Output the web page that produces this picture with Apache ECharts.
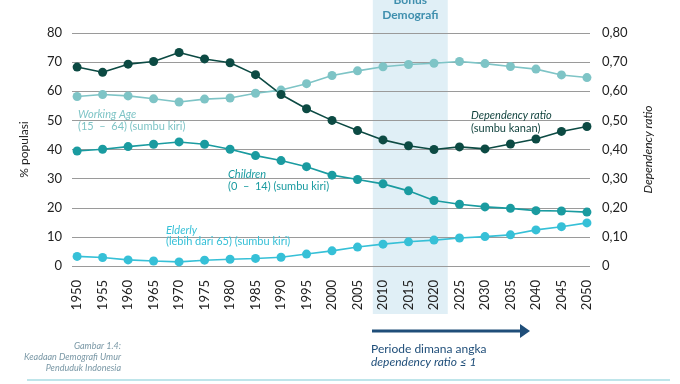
<!DOCTYPE html>
<html><head><meta charset="utf-8">
<script src="https://cdn.jsdelivr.net/npm/echarts@6/dist/echarts.min.js"></script>
<style>html,body{margin:0;padding:0;background:#fff}#c{width:680px;height:384px}</style>
</head><body><div id="c"></div>
<script>
const years = [1950,1955,1960,1965,1970,1975,1980,1985,1990,1995,2000,2005,2010,2015,2020,2025,2030,2035,2040,2045,2050];
const workingAge = [58.2,58.9,58.4,57.4,56.3,57.3,57.7,59.3,60.4,62.6,65.4,67.0,68.4,69.2,69.6,70.2,69.5,68.5,67.6,65.6,64.7];
const children = [39.5,40.1,41.0,41.8,42.6,41.8,40.1,37.9,36.2,34.1,31.2,29.7,28.2,25.8,22.5,21.2,20.3,19.8,19.0,18.9,18.5];
const elderly = [3.3,2.9,2.1,1.7,1.4,2.0,2.3,2.6,3.0,4.1,5.2,6.5,7.5,8.3,8.9,9.6,10.1,10.7,12.4,13.5,14.8];
const dependencyRatio = [0.683,0.665,0.693,0.702,0.733,0.711,0.698,0.657,0.589,0.540,0.500,0.465,0.433,0.413,0.400,0.409,0.402,0.419,0.436,0.462,0.479];
const leftTicks = [0,10,20,30,40,50,60,70,80];
const bonusStart = 2008, bonusEnd = 2022.7;

const FONT = 'Lato';
const pair = arr => years.map((y,i)=>[y,arr[i]]);
const chart = echarts.init(document.getElementById('c'), null, {renderer:'canvas'});
const lineSeries = (name, data, color, yIdx) => ({
  name, type:'line', data: pair(data), yAxisIndex: yIdx,
  symbol:'circle', symbolSize:9, lineStyle:{width:1.6,color}, itemStyle:{color},
  z: 3, animation:false
});
const txt = (x,y,text,fill,opt={}) => ({type:'text', x, y, z:10, style:Object.assign({text, fill, font:(opt.italic?'italic ':'')+(opt.bold?'bold ':'')+(opt.size||11)+'px '+FONT, textAlign:opt.align||'left', textVerticalAlign:'middle'})});

chart.setOption({
  animation:false,
  grid:{left:72,right:90,top:33,bottom:118},
  xAxis:{type:'value', min:1949, max:2050.6,
    axisLine:{show:false}, axisTick:{show:false}, splitLine:{show:false},
    axisLabel:{customValues:years, rotate:90, margin:14, fontFamily:FONT, fontSize:13, color:'#222', formatter: v => String(Math.round(v))}},
  yAxis:[
    {type:'value', min:0, max:80, interval:10, name:'% populasi', nameLocation:'middle', nameGap:42, nameRotate:90,
     nameTextStyle:{fontFamily:FONT, fontSize:12, color:'#222'},
     axisLine:{show:false}, axisTick:{show:false},
     axisLabel:{margin:10, fontFamily:FONT, fontSize:13, color:'#222'},
     splitLine:{lineStyle:{color:'#9a9a9a', width:1}}},
    {type:'value', min:0, max:0.8, interval:0.1, position:'right', name:'Dependency ratio', nameLocation:'middle', nameGap:52, nameRotate:90,
     nameTextStyle:{fontFamily:FONT, fontSize:12, fontStyle:'italic', color:'#222'},
     axisLine:{show:false}, axisTick:{show:false}, splitLine:{show:false},
     axisLabel:{margin:12, fontFamily:FONT, fontSize:13, color:'#222', align:'left',
       formatter: v => v===0 ? '0' : v.toFixed(2).replace('.',',')}}
  ],
  series:[
    lineSeries('Working Age', workingAge, '#7ec4c6', 0),
    lineSeries('Children', children, '#1a9ba0', 0),
    lineSeries('Elderly', elderly, '#36c0d7', 0),
    lineSeries('Dependency ratio', dependencyRatio, '#0c4a43', 1)
  ]
});

const x0 = chart.convertToPixel({xAxisIndex:0}, bonusStart);
const x1 = chart.convertToPixel({xAxisIndex:0}, bonusEnd);
const cx = (x0+x1)/2;
chart.setOption({graphic:[
  {type:'rect', z:-1, silent:true, shape:{x:x0, y:0, width:x1-x0, height:314}, style:{fill:'#e0eff6'}},
  txt(cx, 0, 'Bonus', '#3f8fae', {bold:true, size:12, align:'center'}),
  txt(cx, 15, 'Demografi', '#3f8fae', {bold:true, size:12, align:'center'}),
  txt(78, 114, 'Working Age', '#7ec4c6', {italic:true}),
  txt(78, 126, '(15  \u2013  64) (sumbu kiri)', '#7ec4c6'),
  txt(228, 174, 'Children', '#1a9ba0', {italic:true}),
  txt(228, 186, '(0  \u2013  14) (sumbu kiri)', '#1a9ba0'),
  txt(166, 230, 'Elderly', '#36c0d7', {italic:true}),
  txt(166, 241, '(lebih dari 65) (sumbu kiri)', '#36c0d7'),
  txt(471, 115, 'Dependency ratio', '#0c3f3a', {italic:true}),
  txt(471, 128, '(sumbu kanan)', '#0c3f3a'),
  {type:'line', z:10, shape:{x1:372, y1:331, x2:522, y2:331}, style:{stroke:'#1f4e79', lineWidth:3}},
  {type:'polygon', z:10, shape:{points:[[520,324],[530,331],[520,338]]}, style:{fill:'#1f4e79'}},
  txt(371, 349, 'Periode dimana angka', '#1f4e79', {size:12}),
  txt(371, 362, 'dependency ratio \u2264 1', '#1f4e79', {size:12, italic:true}),
  txt(121, 346, 'Gambar 1.4:', '#7a98a6', {italic:true, size:9, align:'right'}),
  txt(121, 357, 'Keadaan Demografi Umur', '#7a98a6', {italic:true, size:9, align:'right'}),
  txt(121, 368, 'Penduduk Indonesia', '#7a98a6', {italic:true, size:9, align:'right'}),
  {type:'line', z:10, shape:{x1:27, y1:380, x2:670, y2:380}, style:{stroke:'#a8dce3', lineWidth:1.5}}
]});
</script></body></html>
